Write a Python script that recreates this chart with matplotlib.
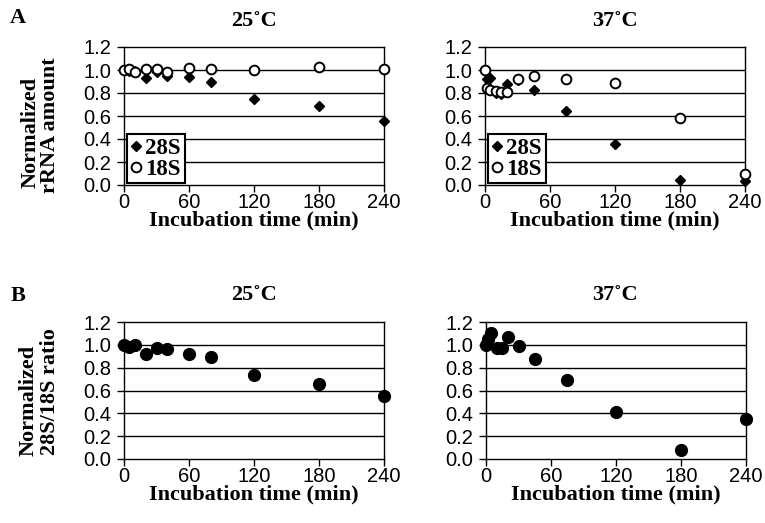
import matplotlib
matplotlib.use("Agg")
import matplotlib.pyplot as plt

# ===== DATA =====
t25 = [0, 5, 10, 20, 30, 40, 60, 80, 120, 180, 240]
s28_25 = [1.0, 0.99, 0.99, 0.93, 0.98, 0.95, 0.94, 0.90, 0.75, 0.69, 0.56]
s18_25 = [1.0, 1.01, 0.98, 1.01, 1.01, 0.98, 1.02, 1.01, 1.0, 1.03, 1.01]
ratio_25 = [1.0, 0.98, 1.0, 0.92, 0.97, 0.96, 0.92, 0.89, 0.74, 0.66, 0.55]

t37 = [0, 2, 5, 10, 15, 20, 30, 45, 75, 120, 180, 240]
s28_37 = [1.0, 0.92, 0.93, 0.80, 0.79, 0.88, 0.91, 0.83, 0.64, 0.36, 0.04, 0.035]
s18_37 = [1.0, 0.84, 0.83, 0.82, 0.81, 0.81, 0.92, 0.95, 0.92, 0.89, 0.58, 0.10]
ratio_37 = [1.0, 1.05, 1.10, 0.97, 0.97, 1.07, 0.99, 0.88, 0.69, 0.41, 0.08, 0.35]

xticks = [0, 60, 120, 180, 240]
yticks = [0.0, 0.2, 0.4, 0.6, 0.8, 1.0, 1.2]
titles = ["25˚C", "37˚C"]
xlabel = "Incubation time (min)"

SERIF = "Liberation Serif"
SANS = "Liberation Sans"
W, H = 765, 523

fig = plt.figure(figsize=(W / 100, H / 100), dpi=100)


def px_axes(x0, y0, x1, y1):
    # pixel box (top-left origin) -> figure fraction
    return fig.add_axes([x0 / W, 1 - y1 / H, (x1 - x0) / W, (y1 - y0) / H])


def style(ax):
    ax.set_xlim(0, 240)
    ax.set_ylim(0, 1.2)
    ax.set_xticks(xticks)
    ax.set_yticks(yticks)
    ax.set_yticklabels([f"{v:.1f}" for v in yticks])
    for lab in ax.get_xticklabels() + ax.get_yticklabels():
        lab.set_fontfamily(SANS)
        lab.set_fontsize(14.5)
    ax.tick_params(direction="out", length=5, width=1)
    ax.tick_params(axis="x", pad=1)
    ax.tick_params(axis="y", pad=4)
    for v in yticks[1:-1]:
        ax.axhline(v, color="black", lw=1.0, zorder=1)
    for sp in ax.spines.values():
        sp.set_color("black")
        sp.set_linewidth(1.0)
    ax.set_xlabel(xlabel, fontfamily=SERIF, fontweight="bold", fontsize=16, labelpad=-1)


# ===== PANEL A =====
axA1 = px_axes(124, 47, 384, 185)
axA2 = px_axes(485, 47, 745, 185)
for ax, t, a, b in [(axA1, t25, s28_25, s18_25), (axA2, t37, s28_37, s18_37)]:
    style(ax)
    ax.plot(t, a, ls="none", marker="D", ms=5.5, mfc="black", mec="black",
            clip_on=False, zorder=3, label="28S")
    ax.plot(t, b, ls="none", marker="o", ms=7, mfc="white", mec="black", mew=1.4,
            clip_on=False, zorder=4, label="18S")
    leg = ax.legend(loc="lower left", bbox_to_anchor=(0.012, 0.012), borderaxespad=0,
                    prop={"family": SERIF, "weight": "bold", "size": 16.5},
                    handlelength=0.5, handletextpad=0.15, borderpad=0.15,
                    labelspacing=0.0, fancybox=False, framealpha=1)
    leg.get_frame().set_edgecolor("black")
    leg.get_frame().set_linewidth(1.5)

# ===== PANEL B =====
axB1 = px_axes(124, 322, 384, 459)
axB2 = px_axes(486, 322, 746, 459)
for ax, t, r in [(axB1, t25, ratio_25), (axB2, t37, ratio_37)]:
    style(ax)
    ax.plot(t, r, ls="none", marker="o", ms=8.5, mfc="black", mec="black",
            clip_on=False, zorder=3)

# ===== TITLES / LABELS =====
tkw = dict(fontfamily=SERIF, fontweight="bold", fontsize=16, ha="center", va="center")
fig.text(254 / W, 1 - 21 / H, titles[0], **tkw)
fig.text(615 / W, 1 - 21 / H, titles[1], **tkw)
fig.text(254 / W, 1 - 295 / H, titles[0], **tkw)
fig.text(615 / W, 1 - 295 / H, titles[1], **tkw)

fig.text(18 / W, 1 - 18 / H, "A", **tkw)
fig.text(18 / W, 1 - 296 / H, "B", **tkw)

fig.text(31 / W, 1 - 132 / H, "Normalized", rotation=90, **tkw)
fig.text(50 / W, 1 - 125 / H, "rRNA amount", rotation=90, **tkw)
fig.text(29 / W, 1 - 400 / H, "Normalized", rotation=90, **tkw)
fig.text(50 / W, 1 - 392 / H, "28S/18S ratio", rotation=90, **tkw)

fig.savefig("out.png", dpi=100)
